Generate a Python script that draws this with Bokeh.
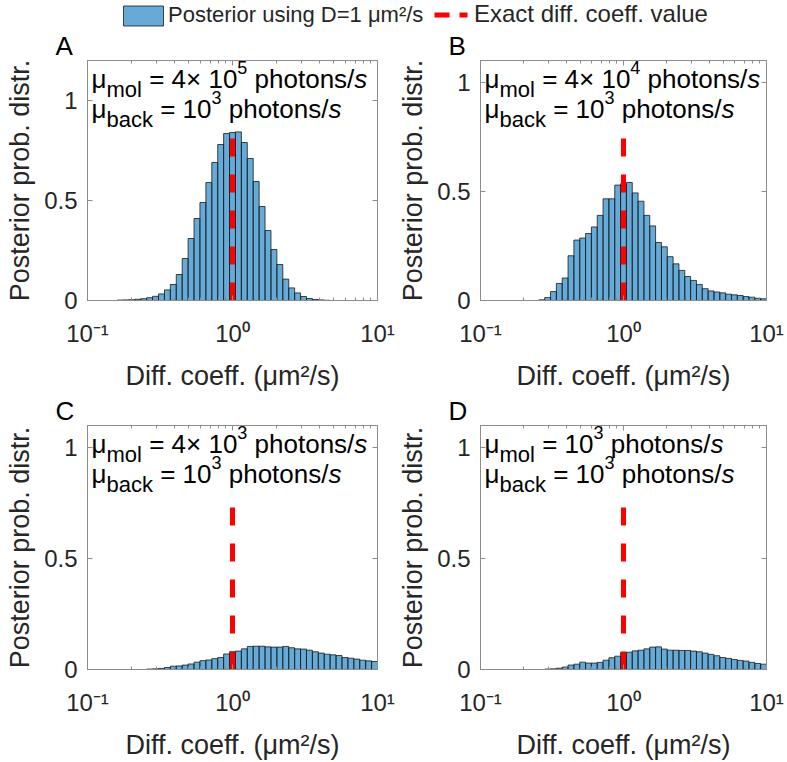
import numpy as np
from bokeh.plotting import figure
from bokeh.models import (Range1d, LogAxis, LinearAxis, FixedTicker, Label,
                          Legend, LegendItem)
from bokeh.layouts import column, row
from bokeh.embed import file_html
from bokeh.resources import INLINE

# ---------------- data ----------------
bin_edges = np.logspace(-1, 1, 50)   # 49 log-spaced bins, 0.1 .. 10

posterior_A = [0, 0, 0, 0, 0, 0.002, 0.003, 0.004, 0.006, 0.009,
               0.014, 0.021, 0.033, 0.053, 0.08, 0.13, 0.21, 0.31, 0.41, 0.49,
               0.59, 0.69, 0.78, 0.835, 0.84, 0.843, 0.79, 0.71, 0.595, 0.47,
               0.35, 0.255, 0.18, 0.107, 0.063, 0.038, 0.02, 0.01, 0.005, 0.003,
               0.001, 0, 0, 0, 0, 0, 0, 0, 0]
posterior_B = [0, 0, 0, 0, 0, 0, 0, 0, 0, 0,
               0.003, 0.014, 0.041, 0.078, 0.103, 0.205, 0.277, 0.286, 0.307, 0.337,
               0.39, 0.466, 0.466, 0.529, 0.535, 0.541, 0.493, 0.455, 0.39, 0.342,
               0.266, 0.246, 0.201, 0.168, 0.138, 0.110, 0.092, 0.073, 0.054, 0.044,
               0.039, 0.035, 0.029, 0.026, 0.023, 0.018, 0.015, 0.010, 0.008]
posterior_C = [0, 0, 0, 0, 0, 0, 0, 0, 0, 0,
               0.002, 0.003, 0.005, 0.009, 0.015, 0.016, 0.020, 0.025, 0.033, 0.040,
               0.043, 0.049, 0.054, 0.070, 0.080, 0.083, 0.093, 0.104, 0.105, 0.105,
               0.102, 0.101, 0.101, 0.104, 0.098, 0.093, 0.092, 0.087, 0.080, 0.074,
               0.069, 0.066, 0.063, 0.054, 0.051, 0.047, 0.042, 0.039, 0.036]
posterior_D = [0, 0, 0, 0, 0, 0, 0, 0, 0, 0,
               0, 0.002, 0.003, 0.006, 0.011, 0.020, 0.024, 0.033, 0.029, 0.029,
               0.032, 0.042, 0.053, 0.060, 0.077, 0.078, 0.084, 0.087, 0.093, 0.101,
               0.102, 0.092, 0.087, 0.087, 0.086, 0.086, 0.083, 0.080, 0.074, 0.068,
               0.062, 0.054, 0.050, 0.045, 0.041, 0.038, 0.032, 0.027, 0.024]
posteriors = [posterior_A, posterior_B, posterior_C, posterior_D]

exact_diff_coeff = 1.0
exact_line_top = [0.82, 0.75, 0.75, 0.75]
y_upper = [1.2, 1.1, 1.1, 1.1]
panel_letters = ["A", "B", "C", "D"]
mol_mantissa = ["4× 10", "4× 10", "4× 10", "10"]
mol_exponent = ["5", "4", "3", "3"]
back_mantissa = "10"
back_exponent = "3"

x_ticks = [0.1, 1.0, 10.0]
x_tick_labels = ["10⁻¹", "10⁰", "10¹"]
x_minor_ticks = [0.2, 0.3, 0.4, 0.5, 0.6, 0.7, 0.8, 0.9, 2, 3, 4, 5, 6, 7, 8, 9]
y_ticks = [0, 0.5, 1]
y_tick_labels = ["0", "0.5", "1"]
legend_labels = ["Posterior using D=1 μm²/s", "Exact diff. coeff. value"]
x_label = "Diff. coeff. (μm²/s)"
y_label = "Posterior prob. distr."

# ---------------- style ----------------
FONT = "Liberation Sans"
AXC = "#8c8c8c"
TXC = "#262626"
BAR_FILL = "#0072bd"
BAR_ALPHA = 0.6
BAR_LINE = "#1a1a1a"

# Arial/Liberation Sans advance widths (em)
W = {' ': .278, '=': .584, '4': .556, '×': .584, '1': .556, '0': .556,
     '3': .556, '5': .556, 'p': .556, 'h': .556, 'o': .556, 't': .278,
     'n': .556, 's': .5, '/': .278, 'm': .833, 'l': .222, 'b': .556,
     'a': .556, 'c': .5, 'k': .5, 'μ': .576}
SIZES = {"main": 26, "it": 26, "sub": 22, "sup": 18}
SHIFT = {"main": 0, "it": 0, "sub": 11, "sup": -11}


def tw(s, size):
    return sum(W.get(c, .556) for c in s) * size


def add_rich_text(p, ytop, pieces, x0, base):
    x = x0
    for txt, kind in pieces:
        size = SIZES[kind]
        lead = len(txt) - len(txt.lstrip(' '))
        x += tw(' ' * lead, size)
        core = txt.strip(' ')
        p.add_layout(Label(x=0.1, y=ytop, x_offset=x, y_offset=-(base + SHIFT[kind]),
                           text=core, text_font=FONT, text_font_size=f"{size}px",
                           text_font_style="italic" if kind == "it" else "normal",
                           text_color="black", text_baseline="alphabetic",
                           text_align="left"))
        x += tw(core, size)


def style_axis(ax, labels=True):
    ax.axis_line_color = AXC
    ax.axis_line_width = 1
    ax.major_tick_line_color = AXC
    ax.minor_tick_line_color = AXC
    ax.major_tick_in = 5
    ax.major_tick_out = 0
    ax.minor_tick_in = 3
    ax.minor_tick_out = 0
    if labels:
        ax.major_label_text_font = FONT
        ax.major_label_text_font_size = "24px"
        ax.major_label_text_color = TXC
        ax.axis_label_text_font = FONT
        ax.axis_label_text_font_size = "27px"
        ax.axis_label_text_font_style = "normal"
        ax.axis_label_text_color = TXC
    else:
        ax.major_label_text_font_size = "1px"
        ax.major_label_text_alpha = 0
        ax.major_label_standoff = 0


def make_panel(i, width, height, bl, br, bt, bb):
    ytop = y_upper[i]
    p = figure(width=width, height=height, x_axis_type="log",
               x_range=Range1d(0.1, 10), y_range=Range1d(0, ytop),
               toolbar_location=None, output_backend="svg",
               min_border_left=bl, min_border_right=br,
               min_border_top=bt, min_border_bottom=bb,
               background_fill_color="white", border_fill_color="white",
               outline_line_color=AXC, title=panel_letters[i])
    p.title.align = "left"
    p.title.offset = -32
    p.title.standoff = 0
    p.title.vertical_align = "bottom"
    p.title.text_font = FONT
    p.title.text_font_size = "26px"
    p.title.text_font_style = "normal"
    p.title.text_color = "black"
    p.xgrid.visible = False
    p.ygrid.visible = False

    xt = FixedTicker(ticks=x_ticks, minor_ticks=x_minor_ticks)
    yt = FixedTicker(ticks=y_ticks, minor_ticks=[])

    xa = p.xaxis[0]
    xa.ticker = xt
    xa.major_label_overrides = dict(zip(x_ticks, x_tick_labels))
    xa.axis_label = x_label
    style_axis(xa)
    xa.major_label_standoff = 19
    xa.axis_label_standoff = 11

    ya = p.yaxis[0]
    ya.ticker = yt
    ya.major_label_overrides = dict(zip(y_ticks, y_tick_labels))
    ya.axis_label = y_label
    style_axis(ya)
    ya.major_label_standoff = 10
    ya.axis_label_standoff = 6

    top_ax = LogAxis(ticker=xt, major_label_overrides={t: " " for t in x_ticks})
    style_axis(top_ax, labels=False)
    p.add_layout(top_ax, "above")
    right_ax = LinearAxis(ticker=yt, major_label_overrides={t: " " for t in y_ticks})
    style_axis(right_ax, labels=False)
    p.add_layout(right_ax, "right")

    p.quad(left=bin_edges[:-1], right=bin_edges[1:], bottom=0, top=posteriors[i],
           fill_color=BAR_FILL, fill_alpha=BAR_ALPHA, line_color=BAR_LINE,
           line_width=0.8)
    p.line(x=[exact_diff_coeff, exact_diff_coeff], y=[0, exact_line_top[i]],
           line_color="#ff0000", line_width=5, line_dash="18 18")

    line1 = [("μ", "main"), ("mol", "sub"), (" = " + mol_mantissa[i], "main"),
             (mol_exponent[i], "sup"), (" photons/", "main"), ("s", "it")]
    line2 = [("μ", "main"), ("back", "sub"), (" = " + back_mantissa, "main"),
             (back_exponent, "sup"), (" photons/", "main"), ("s", "it")]
    add_rich_text(p, ytop, line1, 4, 18)
    add_rich_text(p, ytop, line2, 4, 48)
    return p


pA = make_panel(0, 395, 365, 87, 18, 31, 90)
pB = make_panel(1, 392, 365, 81, 21, 31, 90)
pC = make_panel(2, 395, 369, 87, 18, 32, 93)
pD = make_panel(3, 392, 369, 81, 21, 32, 93)

# ---------------- legend strip ----------------
leg = figure(width=787, height=28, x_range=Range1d(0, 1), y_range=Range1d(0, 1),
             toolbar_location=None, output_backend="svg", min_border=0,
             outline_line_color=None, x_axis_location=None, y_axis_location=None,
             background_fill_color="white", border_fill_color="white")
leg.xgrid.visible = False
leg.ygrid.visible = False
# swatch-only renderers, placed outside the visible range
r_hist = leg.quad(left=[2], right=[3], bottom=[2], top=[3], fill_color=BAR_FILL,
                  fill_alpha=BAR_ALPHA, line_color=BAR_LINE, line_width=0.8)
r_line = leg.line(x=[2, 3], y=[2, 2], line_color="#ff0000", line_width=5,
                  line_dash="15 10 8 100")
common = dict(orientation="horizontal", glyph_height=25, padding=0, margin=0,
              border_line_color=None, background_fill_alpha=0,
              label_text_font=FONT, label_text_color=TXC)
legend1 = Legend(items=[LegendItem(label=legend_labels[0], renderers=[r_hist])],
                 location=(118, 0), glyph_width=50, label_standoff=0,
                 label_text_font_size="22px", **common)
legend2 = Legend(items=[LegendItem(label=legend_labels[1], renderers=[r_line])],
                 location=(434, 0), glyph_width=36, label_standoff=4,
                 label_text_font_size="24px", **common)
leg.add_layout(legend1)
leg.add_layout(legend2)

layout = column(leg, row(pA, pB), row(pC, pD))

open("out.html", "w").write(file_html(layout, INLINE))
